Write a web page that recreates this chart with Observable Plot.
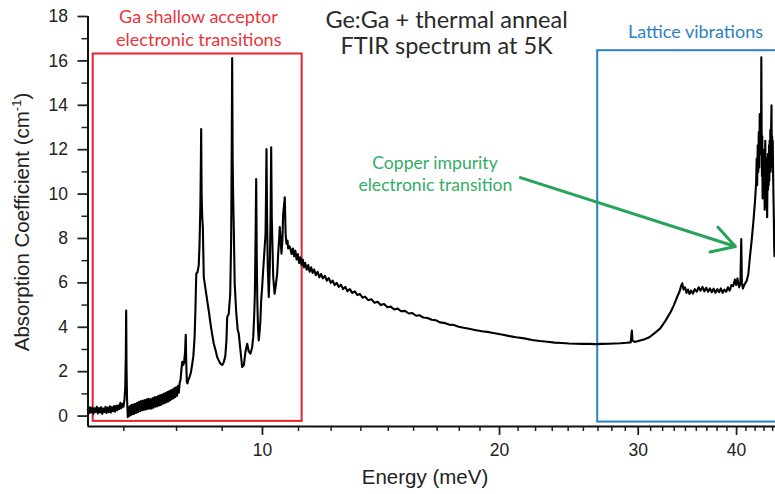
<!DOCTYPE html>
<html><head><meta charset="utf-8">
<script src="https://cdn.jsdelivr.net/npm/d3@7"></script>
<script src="https://cdn.jsdelivr.net/npm/@observablehq/plot@0.6"></script>
<style>
body{margin:0;background:#fff;}
#chart{width:775px;height:494px;}
</style>
</head><body><div id="chart"></div>
<script>
// Spectrum: energy (meV) and absorption coefficient (cm^-1)
const energy = [
 6.00,6.02,6.04,6.06,6.08,6.10,6.12,6.14,6.16,6.18,6.20,6.22,6.24,6.26,6.28,6.30,6.32,6.34,6.36,6.38,
 6.40,6.42,6.44,6.46,6.48,6.50,6.52,6.54,6.56,6.58,6.60,6.62,6.64,6.66,6.68,6.695,6.705,6.713,6.72,6.73,
 6.745,6.76,6.775,6.79,6.805,6.82,6.835,6.85,6.87,6.89,6.91,6.93,6.95,6.97,6.99,7.01,7.03,7.05,7.07,7.09,
 7.11,7.13,7.15,7.17,7.19,7.21,7.23,7.25,7.27,7.29,7.31,7.33,7.35,7.37,7.39,7.41,7.43,7.45,7.47,7.49,
 7.51,7.53,7.55,7.57,7.59,7.61,7.63,7.65,7.67,7.69,7.71,7.73,7.75,7.77,7.79,7.81,7.83,7.85,7.87,7.89,
 7.91,7.93,7.95,7.975,7.99,8.00,8.015,8.03,8.05,8.08,8.11,8.14,8.17,8.20,8.22,8.24,8.27,8.30,8.32,8.34,
 8.352,8.359,8.37,8.385,8.40,8.423,8.46,8.507,8.55,8.59,8.63,8.673,8.72,8.759,8.80,8.844,8.89,8.93,8.97,9.00,
 9.02,9.06,9.10,9.125,9.14,9.152,9.165,9.18,9.195,9.22,9.26,9.30,9.33,9.38,9.423,9.47,9.515,9.54,9.563,9.607,
 9.655,9.703,9.735,9.76,9.78,9.80,9.818,9.835,9.85,9.87,9.89,9.912,9.94,9.962,9.99,10.02,10.06,10.09,10.105,10.118,
 10.135,10.156,10.186,10.216,10.24,10.258,10.275,10.297,10.32,10.36,10.39,10.439,10.47,10.50,10.519,10.545,10.571,10.60,10.624,10.645,
 10.674,10.70,10.727,10.76,10.78,10.82,10.853,10.89,10.93,10.97,11.01,11.05,11.09,11.13,11.17,11.21,11.25,11.29,11.33,11.38,
 11.43,11.48,11.53,11.58,11.63,11.69,11.75,11.81,11.87,11.93,12.00,12.07,12.14,12.21,12.28,12.35,12.42,12.50,12.58,12.66,
 12.74,12.82,12.91,13.00,13.10,13.20,13.30,13.40,13.50,13.62,13.75,13.88,14.00,14.13,14.27,14.41,14.55,14.70,14.85,15.00,
 15.17,15.34,15.50,15.67,15.84,16.00,16.2,16.4,16.6,16.8,17.0,17.25,17.5,17.75,18.0,18.3,18.6,19.0,19.4,19.8,
 20.2,20.6,21.0,21.5,22.0,22.5,23.0,23.5,24.0,24.5,25.0,25.5,26.0,26.5,27.0,27.5,28.0,28.5,29.0,29.35,
 29.45,29.5,29.7,30.0,30.5,31.0,31.5,32.0,32.5,33.0,33.3,33.6,33.85,34.0,34.12,34.25,34.4,34.55,34.7,34.85,
 35.0,35.2,35.4,35.6,35.8,36.0,36.2,36.4,36.6,36.8,37.0,37.2,37.4,37.6,37.8,38.0,38.2,38.4,38.6,38.8,
 39.0,39.2,39.4,39.6,39.8,39.95,40.1,40.3,40.45,40.55,40.62,40.75,40.9,41.05,41.2,41.4,41.6,41.8,42.0,42.2,
 42.35,42.42,42.48,42.55,42.62,42.68,42.74,42.80,42.86,42.92,42.96,43.00,43.04,43.08,43.12,43.16,43.20,43.25,43.30,43.34,
 43.38,43.42,43.46,43.50,43.54,43.58,43.62,43.66,43.70,43.74,43.78,43.82,43.86,43.90,43.94,43.98,44.02,44.06,44.10,44.15,
 44.20,44.25,44.30,44.34,44.38,44.42,44.46,44.50,44.55,44.60,44.65,44.69,44.74,44.80
];
const absorption = [
 0.30,0.12,0.40,0.16,0.38,0.10,0.35,0.18,0.42,0.12,0.36,0.16,0.40,0.10,0.34,0.18,0.42,0.14,0.38,0.18,
 0.44,0.16,0.40,0.22,0.45,0.20,0.46,0.26,0.48,0.32,0.60,0.36,0.55,0.42,0.75,1.30,2.60,4.75,2.20,0.80,
 -0.05,0.40,0.00,0.45,0.05,0.50,0.08,0.52,0.10,0.55,0.14,0.60,0.18,0.64,0.22,0.68,0.26,0.70,0.28,0.72,
 0.30,0.76,0.32,0.78,0.34,0.76,0.34,0.80,0.38,0.84,0.42,0.86,0.44,0.90,0.48,0.94,0.50,0.96,0.56,1.00,
 0.58,1.04,0.62,1.08,0.66,1.12,0.70,1.16,0.76,1.20,0.80,1.26,0.86,1.30,0.92,1.36,1.05,1.50,1.65,2.10,
 2.45,2.30,2.40,2.90,3.66,2.60,1.55,1.47,1.62,1.76,1.95,2.30,2.70,3.56,4.80,6.41,6.48,6.80,7.80,9.50,
 11.5,12.93,10.0,8.96,8.50,6.26,5.80,5.21,4.70,4.16,3.70,3.26,2.95,2.66,2.50,2.36,2.30,2.43,2.70,3.40,
 4.46,4.60,5.50,8.00,12.0,16.13,11.5,9.71,8.50,5.96,4.70,3.90,3.71,2.90,2.21,2.30,2.90,3.10,3.26,2.90,
 2.81,3.10,3.60,4.50,5.50,8.00,10.68,7.00,5.21,4.00,3.41,3.71,4.30,5.21,5.80,6.56,7.50,8.21,10.0,12.03,
 9.00,6.71,5.36,6.71,9.00,12.11,9.00,7.61,6.26,5.51,5.81,6.41,7.31,8.00,8.51,7.90,7.31,7.91,9.11,9.40,
 9.86,8.20,7.76,7.90,7.55,7.65,7.53,7.30,7.55,7.20,7.45,7.05,7.30,6.90,7.15,6.80,7.05,6.70,6.90,6.60,
 6.80,6.50,6.70,6.45,6.60,6.35,6.50,6.25,6.40,6.20,6.32,6.10,6.22,6.00,6.10,5.90,6.00,5.82,5.92,5.72,
 5.82,5.62,5.72,5.55,5.62,5.45,5.50,5.33,5.38,5.22,5.26,5.10,5.15,5.00,5.05,4.90,4.93,4.80,4.84,4.72,
 4.74,4.62,4.64,4.52,4.54,4.44,4.42,4.34,4.32,4.22,4.20,4.12,4.10,4.02,3.98,3.93,3.88,3.82,3.78,3.72,
 3.66,3.60,3.55,3.50,3.43,3.38,3.35,3.31,3.29,3.27,3.26,3.25,3.25,3.24,3.25,3.26,3.27,3.28,3.30,3.32,
 3.85,3.40,3.34,3.38,3.45,3.55,3.75,3.95,4.30,4.70,5.00,5.35,5.60,5.85,5.98,5.70,5.80,5.55,5.70,5.50,
 5.65,5.52,5.72,5.60,5.80,5.65,5.82,5.62,5.78,5.60,5.75,5.58,5.74,5.55,5.72,5.58,5.75,5.55,5.70,5.60,
 5.80,5.65,5.90,5.85,6.15,5.90,6.20,5.80,6.00,7.98,6.00,5.75,5.90,6.00,6.10,6.40,7.20,7.90,8.70,9.60,
 10.5,11.6,10.4,12.2,11.0,12.8,11.2,13.6,11.8,13.0,12.2,16.16,12.8,10.8,12.6,9.8,11.8,10.2,12.0,10.0,
 11.4,9.3,11.0,12.4,10.0,11.6,9.5,11.2,9.4,8.96,10.8,11.8,10.2,11.4,10.4,12.2,10.6,12.4,11.0,12.9,
 11.2,13.0,14.0,11.6,12.6,11.0,12.4,11.2,10.0,9.0,7.6,7.2,8.0,8.8
];

// Axis ticks
const yMajorTicks = [0, 2, 4, 6, 8, 10, 12, 14, 16, 18];
const yMinorTicks = [1, 3, 5, 7, 9, 11, 13, 15, 17];
const xMajorTicks = [10, 20, 30, 40];
const xMinorTicks = [6.667, 7.778, 8.889, 11.111, 12.222, 13.333, 14.444, 15.556, 16.667, 17.778, 18.889,
  21.111, 22.222, 23.333, 24.444, 25.556, 26.667, 27.778, 28.889,
  31.111, 32.222, 33.333, 34.444, 35.556, 36.667, 37.778, 38.889,
  41.111, 42.222, 43.333, 44.444];

// Annotation boxes (energy range, absorption range)
const boxX1 = [6.096, 26.65];
const boxX2 = [11.23, 48];
const boxY1 = [-0.24, -0.27];
const boxY2 = [16.31, 16.46];
const boxColor = ["#e8232b", "#2b7fc4"];

// Texts
const titleLines = ["Ge:Ga + thermal anneal", "FTIR spectrum at 5K"];
const titleX = [17.13, 17.13];
const titleY = [17.48, 16.33];
const gaLines = ["Ga shallow acceptor", "electronic transitions"];
const gaX = [8.293, 8.30];
const gaY = [17.69, 16.68];
const latticeLines = ["Lattice vibrations"];
const latticeX = [35.47];
const latticeY = [17.03];
const copperLines = ["Copper impurity", "electronic transition"];
const copperX = [16.56, 16.58];
const copperY = [11.15, 10.16];
// Arrow (from label to Cu line)
const arrowFrom = [21.26, 10.74];
const arrowTo = [39.87, 7.64];

const spectrum = energy.map((e, i) => ({e, a: absorption[i]}));
const boxes = boxX1.map((x1, i) => ({x1, x2: boxX2[i], y1: boxY1[i], y2: boxY2[i], c: boxColor[i]}));
const rows = (lines, xs, ys) => lines.map((t, i) => ({t, x: xs[i], y: ys[i]}));

const xDomain = [6.004, 44.82];
const yDomain = [-0.47, 18];

const textFont = "Lato, 'Open Sans', sans-serif";

const svg = Plot.plot({
  width: 775,
  height: 494,
  marginLeft: 87.5,
  marginRight: 0,
  marginTop: 16,
  marginBottom: 68,
  style: {fontFamily: "'Liberation Sans', Arial, sans-serif", fontSize: "17.5px", color: "#222", background: "#fff"},
  x: {type: "log", domain: xDomain},
  y: {domain: yDomain},
  marks: [
    Plot.rect(boxes, {x1: "x1", x2: "x2", y1: "y1", y2: "y2", fill: "none", stroke: "c", strokeWidth: 2, clip: true}),
    Plot.line(spectrum, {x: "e", y: "a", stroke: "#000", strokeWidth: 2.1, strokeLinejoin: "round"}),
    Plot.arrow([{x1: arrowFrom[0], y1: arrowFrom[1], x2: arrowTo[0], y2: arrowTo[1]}],
      {x1: "x1", y1: "y1", x2: "x2", y2: "y2", stroke: "#27a35a", strokeWidth: 3, headLength: 13}),
    Plot.axisY(yMajorTicks, {anchor: "left", tickSize: 10, tickPadding: 10, strokeWidth: 1.8, fontSize: 17.5, label: null}),
    Plot.axisY(yMinorTicks, {anchor: "left", tickSize: 6, strokeWidth: 1.5, tickFormat: () => "", label: null}),
    Plot.axisX(xMajorTicks, {anchor: "bottom", tickSize: 9, tickPadding: 8, strokeWidth: 1.8, fontSize: 17.5, tickFormat: d => String(d), label: null}),
    Plot.axisX(xMinorTicks, {anchor: "bottom", tickSize: 5, strokeWidth: 1.5, tickFormat: () => "", label: null}),
    Plot.ruleX([xDomain[0]], {stroke: "#111", strokeWidth: 2}),
    Plot.ruleY([yDomain[0]], {stroke: "#111", strokeWidth: 2}),
    Plot.text(rows(titleLines, titleX, titleY), {x: "x", y: "y", text: "t", textAnchor: "middle", lineAnchor: "bottom", fontSize: 23.5, fontFamily: textFont, fill: "#2a2a2a"}),
    Plot.text(rows(gaLines, gaX, gaY), {x: "x", y: "y", text: "t", textAnchor: "middle", lineAnchor: "bottom", fontSize: 18, fontFamily: textFont, fill: "#e8353b"}),
    Plot.text(rows(latticeLines, latticeX, latticeY), {x: "x", y: "y", text: "t", textAnchor: "middle", lineAnchor: "bottom", fontSize: 18, fontFamily: textFont, fill: "#2f80c2"}),
    Plot.text(rows(copperLines, copperX, copperY), {x: "x", y: "y", text: "t", textAnchor: "middle", lineAnchor: "bottom", fontSize: 17.6, fontFamily: textFont, fill: "#35ad68"})
  ]
});

const s = d3.select(svg);
// Axis titles
s.append("text")
  .attr("x", 425).attr("y", 484)
  .attr("text-anchor", "middle")
  .attr("font-size", 20.5)
  .attr("fill", "#222")
  .text("Energy (meV)");
const yt = s.append("text")
  .attr("transform", "translate(29,222) rotate(-90)")
  .attr("text-anchor", "middle")
  .attr("font-size", 20.5)
  .attr("fill", "#222");
yt.append("tspan").text("Absorption Coefficient (cm");
yt.append("tspan").attr("font-size", 13).attr("dy", -8).text("-1");
yt.append("tspan").attr("dy", 8).text(")");

document.getElementById("chart").appendChild(svg);
</script>
</body></html>
